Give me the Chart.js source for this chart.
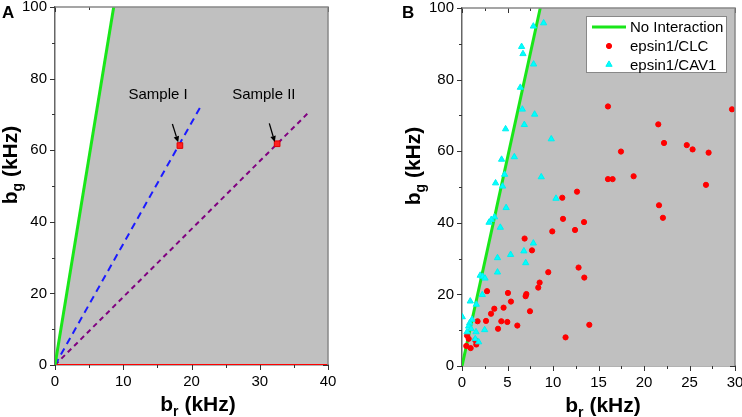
<!DOCTYPE html>
<html lang="en">
<head>
<meta charset="UTF-8">
<title>b_g vs b_r</title>
<script src="https://cdn.jsdelivr.net/npm/chart.js@4"></script>
<style>
  html, body { margin: 0; padding: 0; background: #fff; overflow: hidden; width: 742px; height: 417px; }
  .wrap { position: absolute; }
  #wrapA { left: 0; top: -13px; }
  #wrapB { left: 372px; top: -12px; }
  canvas { display: block; }
  .panel { position: absolute; z-index: 2; font: bold 17px "Liberation Sans", Arial, sans-serif; line-height: 1; }
</style>
</head>
<body>
<div class="wrap" id="wrapA"><canvas id="chartA" width="348" height="438"></canvas></div>
<div class="wrap" id="wrapB"><canvas id="chartB" width="383" height="438"></canvas></div>
<div class="panel" style="left:2px; top:4px">A</div>
<div class="panel" style="left:402px; top:4px">B</div>

<script>
const FONT = '"Liberation Sans", Arial, Helvetica, sans-serif';

// ---- panel A: model lines
const noIntR = [0, 8.6];          // "no interaction" line, b_g vs b_r
const noIntG = [0, 100];
const lineIR = [0, 21.4];         // Sample I dashed line
const lineIG = [0, 72.4];
const lineIIR = [0, 37.3];        // Sample II dashed line
const lineIIG = [0, 70.8];
const sampleNames = ['Sample I', 'Sample II'];
const sampleR = [18.3, 32.55];
const sampleG = [61.3, 61.8];
const labelR = [15.1, 30.6];
const labelG = [74.2, 74.2];
const arrowFromR = [17.2, 31.4];
const arrowFromG = [67.3, 67.5];
const arrowToR = [18.05, 32.2];
const arrowToG = [62.2, 62.3];

// ---- panel B: measurements
const clcR = [16.04, 29.67, 21.57, 22.2, 24.7, 25.34, 27.1, 17.47, 16.04, 16.55,
              18.86, 26.81, 21.65, 22.08, 12.64, 11.02, 11.1, 13.41, 9.92, 12.42,
              6.88, 7.69, 9.48, 12.81, 13.44, 8.38, 8.53, 2.75, 5.05, 6.99,
              7.07, 5.38, 4.57, 3.55, 3.19, 7.47, 2.64, 1.71, 4.32, 4.98,
              6.08, 3.96, 13.99, 11.38, 0.55, 0.73, 0.47, 0.95, 1.46, 1.57];
const clcG = [72.5, 71.7, 67.5, 62.3, 61.7, 60.5, 59.6, 59.9, 52.2, 52.2,
              53.0, 50.6, 44.9, 41.4, 48.7, 47.0, 41.1, 40.2, 37.6, 38.0,
              35.6, 32.3, 26.2, 27.5, 24.7, 21.9, 23.3, 20.9, 20.4, 19.5,
              20.1, 18.0, 16.3, 16.0, 14.6, 15.3, 12.6, 12.5, 12.5, 12.3,
              11.3, 10.4, 11.5, 8.0, 8.5, 7.6, 5.6, 5.0, 7.2, 6.0];
const cavR = [7.84, 8.97, 6.55, 6.7, 7.87, 6.41, 6.63, 7.98, 6.85, 4.79,
              9.81, 4.35, 5.75, 4.68, 3.69, 4.46, 8.71, 10.33, 4.85, 3.58,
              3.22, 2.97, 4.21, 7.84, 3.9, 5.34, 6.8, 7.0, 3.9, 2.0,
              2.27, 2.53, 2.23, 0.91, 1.57, 1.1, 0.84, 0.73, 0.99, 1.54,
              2.49, 1.46, 1.83, 0.55, 0.03];
const cavG = [94.9, 95.8, 89.2, 87.2, 84.3, 77.8, 71.7, 70.3, 67.4, 66.2,
              63.4, 57.7, 58.4, 53.5, 51.1, 50.2, 52.8, 46.8, 44.2, 41.6,
              40.9, 40.1, 38.7, 34.3, 30.2, 31.1, 32.1, 28.8, 26.2, 25.3,
              25.0, 24.5, 19.9, 18.1, 17.2, 13.0, 12.0, 11.1, 10.4, 9.5,
              10.1, 7.6, 6.7, 9.5, 13.7];

const GREEN = '#19e619';
const SHADE = '#c0c0c0';

function pts(xs, ys) {
    return xs.map((x, i) => ({ x: x, y: ys[i] }));
}

// shaded region = right of the no-interaction line
function shade(xMax, order) {
    return {
        label: '', data: pts([noIntR[0], noIntR[1], xMax, xMax], [noIntG[0], noIntG[1], 100, 0]),
        fill: 'origin', backgroundColor: SHADE, borderWidth: 0, pointRadius: 0, order: order
    };
}

function onTick(v, every) {
    return Math.abs(v / every - Math.round(v / every)) < 1e-6;
}

function makeScales(xMax, xStep, xEvery, yWidth) {
    const tickFont = { family: FONT, size: 15 };
    return {
        x: {
            type: 'linear', min: 0, max: xMax, major: xEvery,
            afterFit: s => { s.height = 60; },
            ticks: {
                stepSize: xStep, autoSkip: false, maxRotation: 0, minRotation: 0, padding: 8,
                color: '#000', font: tickFont,
                callback: v => onTick(v, xEvery) ? String(v) : ''
            },
            grid: { drawOnChartArea: false, drawTicks: false },
            border: { color: '#666', width: 1.5 }
        },
        y: {
            type: 'linear', min: 0, max: 100, major: 20,
            afterFit: s => { s.width = yWidth; },
            ticks: {
                stepSize: 10, autoSkip: false, padding: 8, color: '#000', font: tickFont,
                callback: v => onTick(v, 20) ? String(v) : ''
            },
            grid: { drawOnChartArea: false, drawTicks: false },
            border: { color: '#666', width: 1.5 }
        }
    };
}

function subText(ctx, main, sub, rest) {
    const big = 'bold 21px ' + FONT, small = 'bold 14px ' + FONT;
    ctx.font = big; const w1 = ctx.measureText(main).width; const w3 = ctx.measureText(rest).width;
    ctx.font = small; const w2 = ctx.measureText(sub).width;
    let x = -(w1 + w2 + w3) / 2;
    ctx.fillStyle = '#000';
    ctx.textAlign = 'left'; ctx.textBaseline = 'alphabetic';
    ctx.font = big; ctx.fillText(main, x, 0); x += w1;
    ctx.font = small; ctx.fillText(sub, x, 5); x += w2;
    ctx.font = big; ctx.fillText(rest, x, 0);
}

const decor = {
    id: 'decor',
    beforeDatasetsDraw(chart) {
        const { ctx, chartArea: a, scales: { x, y } } = chart;
        ctx.save();
        ctx.strokeStyle = '#333'; ctx.lineWidth = 1;
        // major ticks 5px, minor ticks 3px; outward on left/bottom, inward on top/right
        x.ticks.forEach(t => {
            const len = onTick(t.value, x.options.major) ? 5 : 3;
            const px = Math.round(x.getPixelForValue(t.value)) + 0.5;
            ctx.beginPath(); ctx.moveTo(px, a.bottom); ctx.lineTo(px, a.bottom + len); ctx.stroke();
            ctx.beginPath(); ctx.moveTo(px, a.top); ctx.lineTo(px, a.top + len); ctx.stroke();
        });
        y.ticks.forEach(t => {
            const len = onTick(t.value, y.options.major) ? 5 : 3;
            const py = Math.round(y.getPixelForValue(t.value)) + 0.5;
            ctx.beginPath(); ctx.moveTo(a.left, py); ctx.lineTo(a.left - len, py); ctx.stroke();
            ctx.beginPath(); ctx.moveTo(a.right, py); ctx.lineTo(a.right - len, py); ctx.stroke();
        });
        ctx.restore();
    },
    afterDatasetsDraw(chart, args, o) {
        const { ctx, chartArea: a, scales: { x, y } } = chart;
        ctx.save();
        // top and right frame
        ctx.strokeStyle = '#888'; ctx.lineWidth = 1.5;
        ctx.beginPath();
        ctx.moveTo(a.left, a.top); ctx.lineTo(a.right, a.top); ctx.lineTo(a.right, a.bottom);
        ctx.stroke();

        // arrows
        if (o.arrows) {
            ctx.strokeStyle = '#000'; ctx.fillStyle = '#000'; ctx.lineWidth = 1.3;
            o.arrows.fromR.forEach((r, i) => {
                const x0 = x.getPixelForValue(r), y0 = y.getPixelForValue(o.arrows.fromG[i]);
                const x1 = x.getPixelForValue(o.arrows.toR[i]), y1 = y.getPixelForValue(o.arrows.toG[i]);
                const ang = Math.atan2(y1 - y0, x1 - x0);
                const hl = 6, hw = 2.8;
                const bx = x1 - hl * Math.cos(ang), by = y1 - hl * Math.sin(ang);
                ctx.beginPath(); ctx.moveTo(x0, y0); ctx.lineTo(bx, by); ctx.stroke();
                ctx.beginPath();
                ctx.moveTo(x1, y1);
                ctx.lineTo(bx + hw * Math.sin(ang), by - hw * Math.cos(ang));
                ctx.lineTo(bx - hw * Math.sin(ang), by + hw * Math.cos(ang));
                ctx.closePath(); ctx.fill();
            });
        }

        // text labels in data coordinates
        if (o.labels) {
            ctx.fillStyle = '#000'; ctx.font = '15px ' + FONT;
            ctx.textAlign = 'center'; ctx.textBaseline = 'alphabetic';
            o.labels.text.forEach((t, i) => {
                ctx.fillText(t, x.getPixelForValue(o.labels.r[i]), y.getPixelForValue(o.labels.g[i]));
            });
        }

        // legend box
        if (o.legend) {
            const sets = chart.data.datasets.filter(d => d.label);
            const bw = 140, bh = 56;
            const bx = a.right - 9 - bw, by = a.top + 8;
            ctx.fillStyle = '#fff'; ctx.fillRect(bx, by, bw, bh);
            ctx.strokeStyle = '#888'; ctx.lineWidth = 1;
            ctx.strokeRect(Math.round(bx) + 0.5, Math.round(by) + 0.5, bw, bh);
            ctx.font = '15px ' + FONT; ctx.textAlign = 'left'; ctx.textBaseline = 'middle';
            const rows = [11, 30, 48.5];
            sets.forEach((d, i) => {
                const cy = by + rows[i];
                if (d.showLine === false) {
                    ctx.fillStyle = d.pointBackgroundColor;
                    ctx.strokeStyle = d.pointBorderColor;
                    ctx.lineWidth = d.pointBorderWidth;
                    Chart.helpers.drawPoint(ctx, { pointStyle: d.pointStyle, radius: d.pointRadius, borderWidth: d.pointBorderWidth, rotation: 0 }, bx + 23, cy);
                } else {
                    ctx.strokeStyle = d.borderColor; ctx.lineWidth = d.borderWidth;
                    ctx.beginPath(); ctx.moveTo(bx + 6, cy); ctx.lineTo(bx + 40, cy); ctx.stroke();
                }
                ctx.fillStyle = '#000';
                ctx.fillText(d.label, bx + 44, cy + 1);
            });
        }
        ctx.restore();
    },
    afterDraw(chart, args, o) {
        const { ctx, chartArea: a } = chart;
        ctx.save();
        ctx.translate((a.left + a.right) / 2 + o.xTitleDx, a.bottom + 46);
        subText(ctx, 'b', 'r', ' (kHz)');
        ctx.restore();
        ctx.save();
        ctx.translate(a.left + o.yTitleDx, a.top + 158);
        ctx.rotate(-Math.PI / 2);
        subText(ctx, 'b', 'g', ' (kHz)');
        ctx.restore();
    }
};

const common = {
    responsive: false,
    animation: false,
    layout: { padding: { left: 0, top: 20, right: 20, bottom: 0 } },
    elements: { line: { tension: 0 } }
};

// ---- panel A
new Chart(document.getElementById('chartA'), {
    type: 'line',
    data: {
        datasets: [
            { label: '', data: pts(sampleR, sampleG), showLine: false, pointStyle: 'rect', pointRadius: 4,
              pointBackgroundColor: '#ff2020', pointBorderColor: '#e00000', pointBorderWidth: 1, order: 1 },
            { label: '', data: pts(noIntR, noIntG), borderColor: GREEN, borderWidth: 3, pointRadius: 0, fill: false, order: 2 },
            { label: '', data: pts([0, 40], [0, 0]), borderColor: '#ff0000', borderWidth: 2, pointRadius: 0, fill: false, order: 3 },
            { label: '', data: pts(lineIR, lineIG), borderColor: '#1a1aff', borderWidth: 2, borderDash: [7, 5], pointRadius: 0, fill: false, order: 4 },
            { label: '', data: pts(lineIIR, lineIIG), borderColor: '#800080', borderWidth: 2, borderDash: [5, 4], pointRadius: 0, fill: false, order: 5 },
            shade(40, 10)
        ]
    },
    options: Object.assign({}, common, {
        scales: makeScales(40, 5, 10, 55),
        plugins: {
            legend: { display: false }, tooltip: { enabled: false },
            decor: {
                xTitleDx: 6.5, yTitleDx: -38,
                labels: { text: sampleNames, r: labelR, g: labelG },
                arrows: { fromR: arrowFromR, fromG: arrowFromG, toR: arrowToR, toG: arrowToG }
            }
        }
    }),
    plugins: [decor]
});

// ---- panel B
new Chart(document.getElementById('chartB'), {
    type: 'line',
    data: {
        datasets: [
            { label: 'No Interaction', data: pts(noIntR, noIntG), borderColor: GREEN, borderWidth: 3, pointRadius: 0, fill: false, order: 3 },
            { label: 'epsin1/CLC', data: pts(clcR, clcG), showLine: false, pointStyle: 'circle', pointRadius: 2.6,
              pointBackgroundColor: '#ff0000', pointBorderColor: '#ff0000', pointBorderWidth: 1, order: 2 },
            { label: 'epsin1/CAV1', data: pts(cavR, cavG), showLine: false, pointStyle: 'triangle', pointRadius: 3.6,
              pointBackgroundColor: '#00ffff', pointBorderColor: '#00f0f0', pointBorderWidth: 1, order: 1 },
            shade(30, 10)
        ]
    },
    options: Object.assign({}, common, {
        scales: makeScales(30, 2.5, 5, 90),
        plugins: {
            legend: { display: false }, tooltip: { enabled: false },
            decor: { xTitleDx: 4.5, yTitleDx: -42, legend: true }
        }
    }),
    plugins: [decor]
});
</script>
</body>
</html>
